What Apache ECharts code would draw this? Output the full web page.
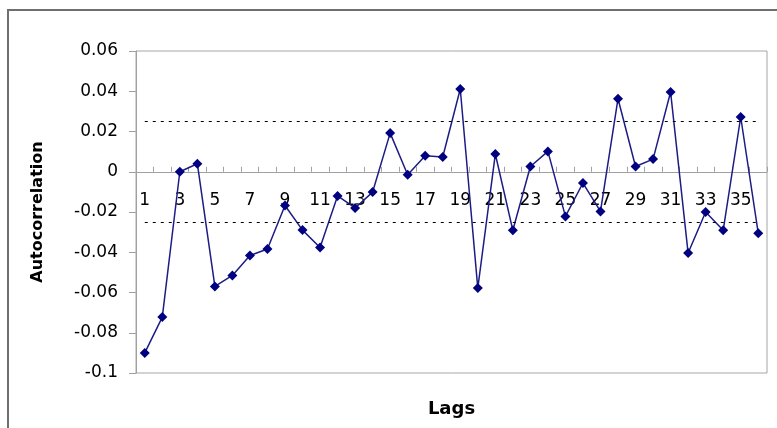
<!DOCTYPE html>
<html>
<head>
<meta charset="utf-8">
<script src="https://cdn.jsdelivr.net/npm/echarts@6/dist/echarts.min.js"></script>
<style>
html,body{margin:0;padding:0;background:#fff;}
#chart{width:777px;height:428px;}
</style>
</head>
<body>
<div id="chart"></div>
<script>
var lags = ['1','2','3','4','5','6','7','8','9','10','11','12','13','14','15','16','17','18','19','20','21','22','23','24','25','26','27','28','29','30','31','32','33','34','35','36'];
var autocorr = [-0.090, -0.0722, 0.000, 0.004, -0.057, -0.0515, -0.0416, -0.0384, -0.0168, -0.029, -0.0376, -0.0120, -0.0180, -0.0101, 0.0192, -0.0015, 0.0079, 0.0073, 0.0411, -0.0578, 0.0088, -0.0291, 0.0026, 0.0101, -0.0222, -0.0056, -0.0197, 0.0363, 0.0026, 0.0063, 0.0396, -0.0404, -0.0200, -0.0291, 0.0272, -0.0305];
var bounds = [0.025, -0.025];
var yTicks = {min: -0.1, max: 0.06, interval: 0.02};

var chart = echarts.init(document.getElementById('chart'));
var font = 'DejaVu Sans, Verdana, sans-serif';
chart.setOption({
  animation: false,
  backgroundColor: '#fff',
  graphic: [{
    type: 'rect', silent: true,
    shape: {x: 8, y: 10, width: 820, height: 480},
    style: {fill: 'none', stroke: '#6f6f6f', lineWidth: 2}
  }],
  grid: {left: 136, top: 51, right: 10, bottom: 55, outerBoundsMode: 'none', containLabel: false,
    show: true, borderColor: '#a6a6a6', borderWidth: 1, backgroundColor: 'transparent'},
  xAxis: {
    type: 'category', data: lags, boundaryGap: true,
    name: 'Lags', nameLocation: 'middle', nameGap: 27, nameMoveOverlap: false,
    nameTextStyle: {fontFamily: font, fontWeight: 'bold', fontSize: 18, color: '#000'},
    axisLine: {onZero: true, lineStyle: {color: '#a0a0a0', width: 1}},
    axisTick: {show: true, inside: true, length: 5, interval: 0, lineStyle: {color: '#a0a0a0'}},
    axisLabel: {interval: 1, margin: -181, fontFamily: font, fontSize: 17, color: '#000'},
    splitLine: {show: false}
  },
  yAxis: {
    type: 'value', min: yTicks.min, max: yTicks.max, interval: yTicks.interval,
    name: 'Autocorrelation', nameLocation: 'middle', nameGap: 90, nameRotate: 90, nameMoveOverlap: false,
    nameTextStyle: {fontFamily: font, fontWeight: 'bold', fontSize: 16, color: '#000'},
    axisLine: {show: true, lineStyle: {color: '#a0a0a0'}},
    axisTick: {show: true, length: 7, lineStyle: {color: '#a0a0a0'}},
    axisLabel: {margin: 18, fontFamily: font, fontSize: 17, color: '#000',
      formatter: function (v) { return String(parseFloat(v.toFixed(2))); }},
    splitLine: {show: false}
  },
  series: [{
    type: 'line', data: autocorr,
    symbol: 'diamond', symbolSize: 10,
    itemStyle: {color: '#000080'},
    lineStyle: {color: '#1c1c86', width: 1.5},
    markLine: {
      silent: true, symbol: 'none', label: {show: false},
      lineStyle: {color: '#000', type: [3, 5], width: 1.2},
      data: bounds.map(function (b) {
        return [{coord: [0, b]}, {coord: [lags.length - 1, b]}];
      })
    }
  }]
});
</script>
</body>
</html>
